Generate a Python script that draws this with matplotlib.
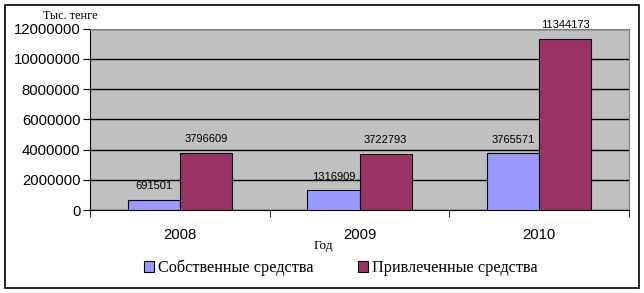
import numpy as np
import matplotlib.pyplot as plt
from matplotlib.patches import Rectangle

years = ["2008", "2009", "2010"]
own = [691501, 1316909, 3765571]
borrowed = [3796609, 3722793, 11344173]
series_names = ["Собственные средства", "Привлеченные средства"]
yticks = [0, 2000000, 4000000, 6000000, 8000000, 10000000, 12000000]

fig = plt.figure(figsize=(6.44, 2.93), dpi=100)
fig.patch.set_facecolor("white")
fig.patches.append(Rectangle((5 / 644, 1 - 288 / 293), 634 / 644, 283 / 293,
                             transform=fig.transFigure, fill=False,
                             edgecolor="black", linewidth=1.2))

ax = fig.add_axes([90 / 644, 1 - 210 / 293, 539 / 644, 181.3 / 293])
ax.set_facecolor("#C0C0C0")

x = np.arange(len(years))
w = 0.29
b1 = ax.bar(x - w / 2, own, w, color="#9999FF", edgecolor="black", linewidth=0.8,
            label=series_names[0], zorder=3)
b2 = ax.bar(x + w / 2, borrowed, w, color="#993366", edgecolor="black", linewidth=0.8,
            label=series_names[1], zorder=3)

for bars, vals in ((b1, own), (b2, borrowed)):
    for r, v in zip(bars, vals):
        ax.annotate(str(v), (r.get_x() + r.get_width() / 2, v), xytext=(0, 6),
                    textcoords="offset points", ha="center", va="bottom",
                    fontsize=8, family="Liberation Sans")

ax.set_xlim(-0.5, 2.5)
ax.set_ylim(0, 12000000)
ax.set_yticks(yticks)
ax.set_yticklabels([str(t) for t in yticks], family="Liberation Sans", fontsize=10.7)
ax.yaxis.grid(True, color="black", linewidth=1)
ax.set_axisbelow(True)

ax.set_xticks(x)
ax.set_xticklabels(years, family="Liberation Sans", fontsize=10.7)
ax.set_xticks([-0.5, 0.5, 1.5, 2.5], minor=True)
ax.tick_params(axis="x", which="major", length=0, pad=13)
ax.tick_params(axis="x", which="minor", length=5, direction="out", color="black")
ax.tick_params(axis="y", length=5, direction="out", pad=2)

for s in ("top", "right"):
    ax.spines[s].set_color("#808080")
for s in ("left", "bottom"):
    ax.spines[s].set_color("black")

fig.text(43 / 644, 1 - 16 / 293, "Тыс. тенге", family="Liberation Serif",
         fontsize=8.8, va="center", ha="left")
fig.text(323 / 644, 1 - 246 / 293, "Год", family="Liberation Serif",
         fontsize=9.5, va="center", ha="center")

leg = fig.legend(loc="center", bbox_to_anchor=(341 / 644, 1 - 268 / 293), ncol=2,
                 frameon=False, prop={"family": "Liberation Serif", "size": 11.7},
                 handlelength=0.62, handleheight=0.62, handletextpad=0.25,
                 columnspacing=2.7, borderpad=0, borderaxespad=0)

fig.savefig("out.png", dpi=100)
